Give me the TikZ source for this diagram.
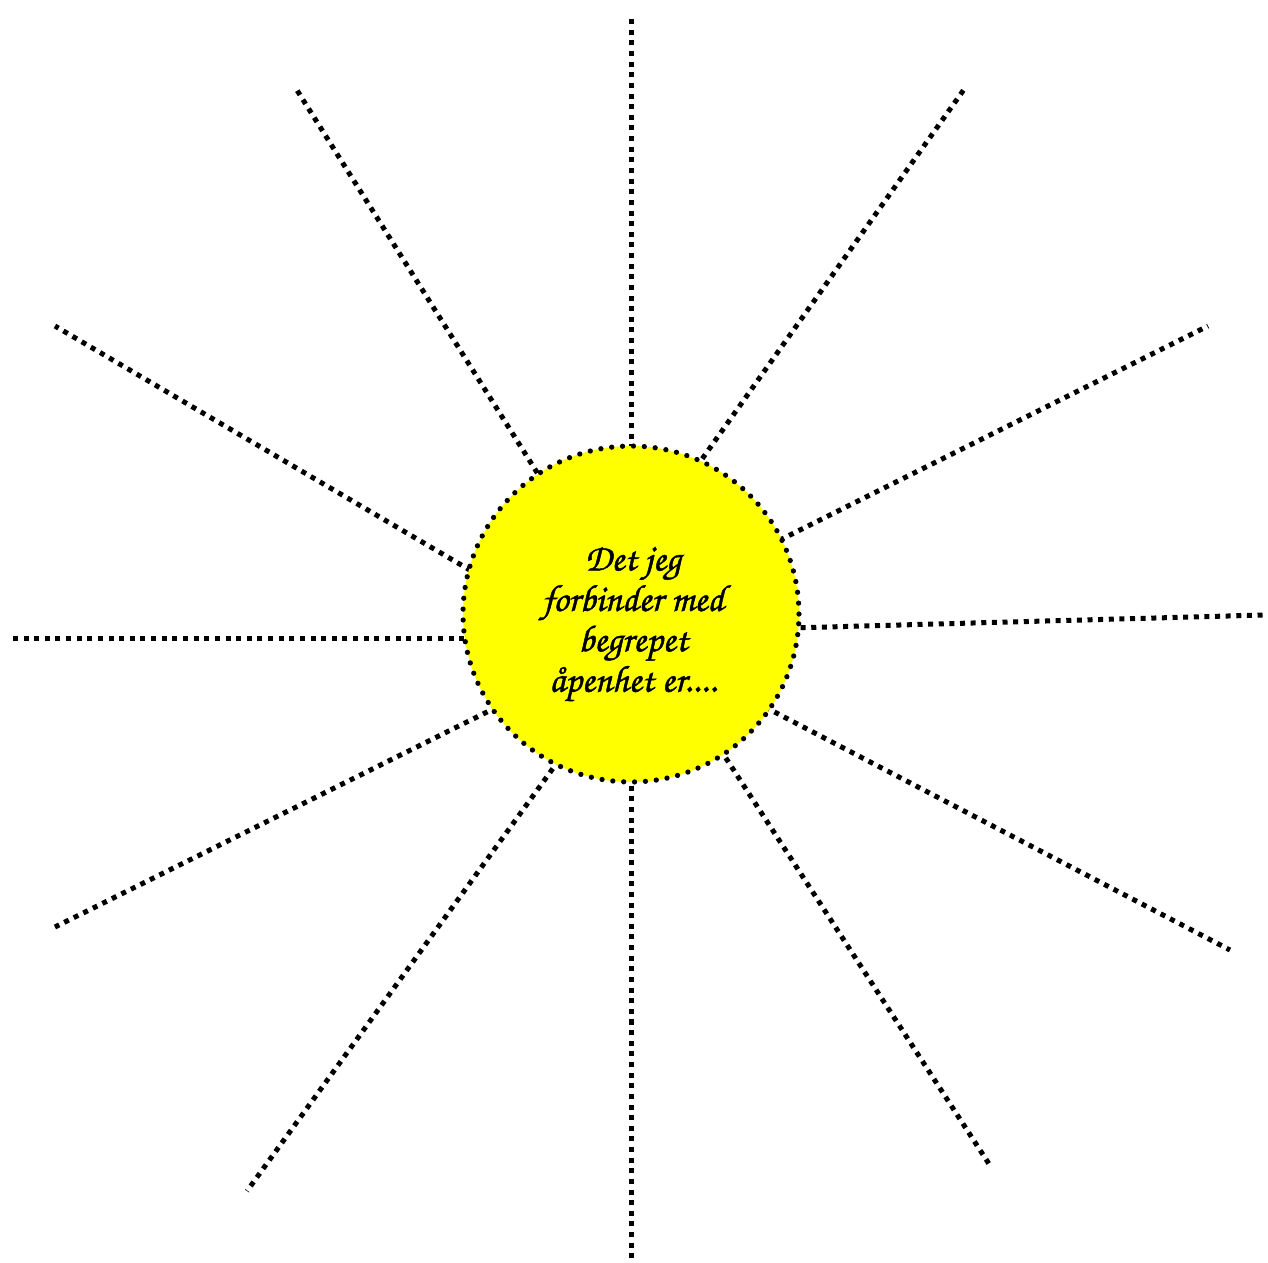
\documentclass[tikz,border=0pt]{standalone}
\usepackage{fontspec}
\newfontfamily\handfont[FakeBold=1.2]{texgyrechorus-mediumitalic.otf}
\definecolor{sunyellow}{RGB}{255,255,0}
\begin{document}
\begin{tikzpicture}[x=0.02cm,y=-0.02cm,
  ray/.style={line width=2.85pt, dash pattern=on 2.85pt off 3.2pt},
  sunbox/.style={circle, fill=sunyellow, draw=black, line width=3pt, line cap=round,
    dash pattern=on 0pt off 6.2pt, minimum size=6.72cm, inner sep=0pt},
  sunText/.style={align=center, font=\handfont\fontsize{21.5}{23}\selectfont}]
\useasboundingbox (0,0) rectangle (1268,1262);
\coordinate (a1) at (631,460); \coordinate (b1) at (631,15);
\coordinate (a2) at (690,476); \coordinate (b2) at (965,88);
\coordinate (a3) at (770,545); \coordinate (b3) at (1208,326);
\coordinate (a4) at (790,628); \coordinate (b4) at (1264,615);
\coordinate (a5) at (765,707); \coordinate (b5) at (1230,950);
\coordinate (a6) at (720,749); \coordinate (b6) at (991,1167);
\coordinate (a7) at (631,775); \coordinate (b7) at (631,1262);
\coordinate (a8) at (559,760); \coordinate (b8) at (247,1191);
\coordinate (a9) at (497,707); \coordinate (b9) at (55,927);
\coordinate (a10) at (475,638); \coordinate (b10) at (8,638);
\coordinate (a11) at (480,576); \coordinate (b11) at (55,326);
\coordinate (a12) at (543,482); \coordinate (b12) at (295,87);
\foreach \i in {1,...,12} { \draw[ray] (a\i) -- (b\i); }
\node[sunbox] (sun) at (631,614) {};
\node[sunText] (txt) at (633,624) {Det jeg\\forbinder med\\begrepet\\åpenhet er....};
\end{tikzpicture}
\end{document}
